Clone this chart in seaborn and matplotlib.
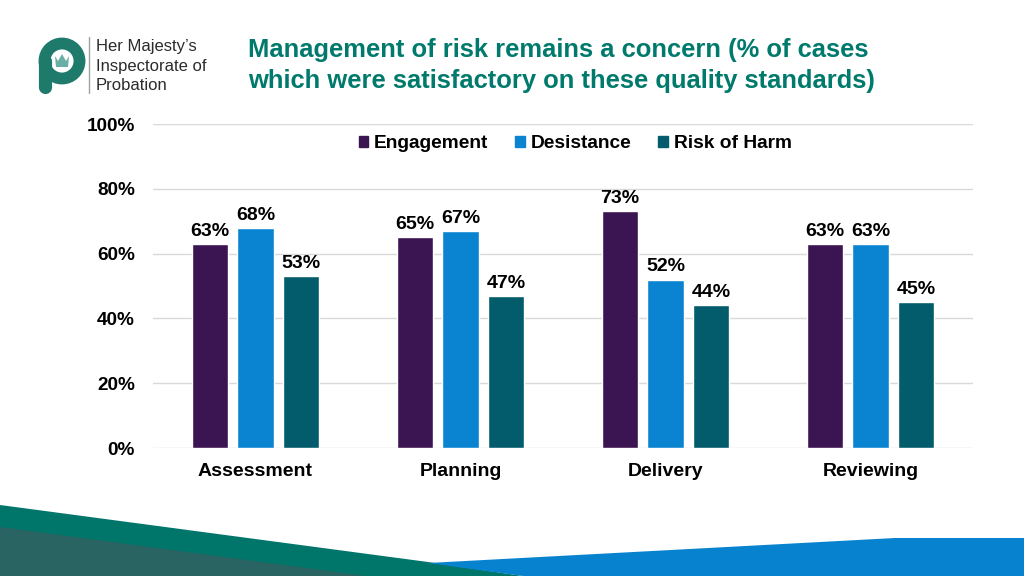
import matplotlib
matplotlib.use("Agg")
import matplotlib.pyplot as plt
from matplotlib.patches import Polygon, Circle
import pandas as pd
import seaborn as sns

# data
stages = ["Assessment", "Planning", "Delivery", "Reviewing"]
standards = ["Engagement", "Desistance", "Risk of Harm"]
engagement = [63, 65, 73, 63]
desistance = [68, 67, 52, 63]
risk_of_harm = [53, 47, 44, 45]
y_ticks = [0, 20, 40, 60, 80, 100]

colours = ["#3B1552", "#0A84D0", "#035C6C"]
teal = "#007A6C"

df = pd.DataFrame({
    "stage": stages * 3,
    "standard": [s for s in standards for _ in stages],
    "value": engagement + desistance + risk_of_harm,
})

sns.set_theme(style="white")
plt.rcParams["font.family"] = ["Liberation Sans", "DejaVu Sans"]
plt.rcParams["text.color"] = "black"
plt.rcParams["xtick.color"] = "black"
plt.rcParams["ytick.color"] = "black"

fig = plt.figure(figsize=(10.24, 5.76), dpi=100)

# background layer in pixel coordinates (logo, bands)
bg = fig.add_axes([0, 0, 1, 1], zorder=0)
bg.set_xlim(0, 1024)
bg.set_ylim(576, 0)
bg.axis("off")

# decorative bands at the bottom
bg.add_patch(Polygon([(0, 505), (428, 562), (523, 576), (0, 576)], closed=True, color="#00756A", lw=0))
bg.add_patch(Polygon([(0, 527), (366, 576), (0, 576)], closed=True, color="#2A6462", lw=0))
bg.add_patch(Polygon([(428, 563), (895, 538), (1024, 538), (1024, 576), (523, 576)], closed=True, color="#0782CF", lw=0))

# logo
logo_c = "#1E7A6A"
bg.add_patch(Circle((62, 61), 17.5, fill=False, ec=logo_c, lw=8.5))
bg.plot([44.5, 44.5], [61, 87], color=logo_c, lw=9.5, solid_capstyle="round")
bg.add_patch(Polygon([(55, 56), (58, 61), (62, 54), (66, 61), (69, 56), (68, 67), (56, 67)],
                     closed=True, color="#6AAFA5", lw=0))
bg.plot([89, 89], [37, 93], color="#9AA5A3", lw=1)
bg.text(96, 47, "Her Majesty\u2019s", fontsize=12, color="#2B2B2B", va="center")
bg.text(96, 66, "Inspectorate of", fontsize=12, color="#2B2B2B", va="center")
bg.text(96, 85, "Probation", fontsize=12, color="#2B2B2B", va="center")

# title
bg.text(248, 50, "Management of risk remains a concern (% of cases", fontsize=18.4,
        fontweight="bold", color=teal, va="center")
bg.text(248, 81, "which were satisfactory on these quality standards)", fontsize=18.4,
        fontweight="bold", color=teal, va="center")

# chart
ax = fig.add_axes([153 / 1024, 0.2222, 820 / 1024, 0.5625], zorder=1)
ax.patch.set_alpha(0)
sns.barplot(data=df, x="stage", y="value", hue="standard", order=stages,
            hue_order=standards, palette=colours, width=0.666, gap=0.2,
            saturation=1, ax=ax, legend=False)

for cont in ax.containers:
    ax.bar_label(cont, labels=[f"{v:.0f}%" for v in cont.datavalues], padding=3,
                 fontsize=14, fontweight="bold", color="black")

ax.set_ylim(0, 100)
ax.set_xlim(-0.5, 3.5)
ax.set_yticks(y_ticks)
ax.set_yticklabels([f"{t}%" for t in y_ticks])
ax.yaxis.grid(True, color="#D9D9D9", lw=1)
ax.set_axisbelow(True)
for sp in ax.spines.values():
    sp.set_visible(False)
ax.tick_params(axis="both", length=0)
ax.tick_params(axis="y", pad=13, labelsize=13.6)
ax.tick_params(axis="x", pad=11, labelsize=14)
for lab in ax.get_xticklabels() + ax.get_yticklabels():
    lab.set_fontweight("bold")
ax.set_xlabel("")
ax.set_ylabel("")

handles = [plt.Rectangle((0, 0), 1, 1, color=c) for c in colours]
leg = ax.legend(handles, standards, loc="center", bbox_to_anchor=(0.515, 0.94), ncol=3,
                frameon=False, handlelength=0.5, handleheight=0.5, handletextpad=0.3,
                columnspacing=1.4, prop={"weight": "bold", "size": 13.8})

fig.savefig("out.png", dpi=100, facecolor="white")
